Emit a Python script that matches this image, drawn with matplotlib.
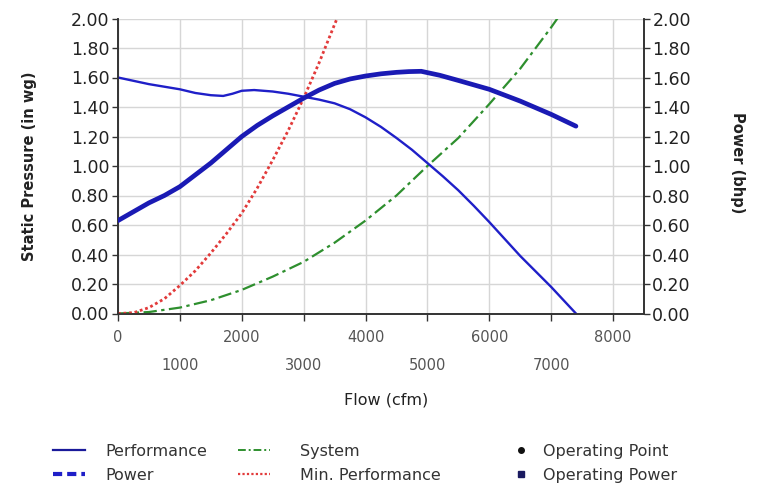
import matplotlib
matplotlib.use("Agg")
import matplotlib.pyplot as plt
from matplotlib.lines import Line2D

# ---- data ----
flow_perf = [0, 500, 1000, 1250, 1500, 1700, 1850, 2000, 2200, 2500, 2750, 3000,
             3250, 3500, 3750, 4000, 4250, 4500, 4750, 5000, 5250, 5500, 5750,
             6000, 6250, 6500, 6750, 7000, 7200, 7400]
performance = [1.60, 1.555, 1.52, 1.495, 1.48, 1.475, 1.49, 1.51, 1.515, 1.505, 1.49, 1.47,
               1.45, 1.425, 1.385, 1.33, 1.265, 1.19, 1.11, 1.02, 0.93, 0.835, 0.73,
               0.62, 0.505, 0.39, 0.285, 0.18, 0.09, 0.0]

flow_power = [0, 250, 500, 750, 1000, 1250, 1500, 1750, 2000, 2250, 2500, 2750,
              3000, 3250, 3500, 3750, 4000, 4250, 4500, 4700, 4900, 5200, 5500,
              5750, 6000, 6250, 6500, 6750, 7000, 7200, 7400]
power = [0.63, 0.69, 0.75, 0.80, 0.86, 0.94, 1.02, 1.11, 1.20, 1.275, 1.34, 1.40,
         1.46, 1.515, 1.56, 1.59, 1.61, 1.625, 1.635, 1.64, 1.642, 1.615, 1.58,
         1.55, 1.52, 1.48, 1.44, 1.395, 1.35, 1.31, 1.27]

flow_system = [0, 500, 1000, 1500, 2000, 2500, 3000, 3500, 4000, 4500, 5000,
               5500, 6000, 6500, 7000, 7200]
system = [0.0, 0.01, 0.04, 0.09, 0.16, 0.25, 0.35, 0.48, 0.63, 0.80, 1.00,
          1.19, 1.42, 1.66, 1.94, 2.06]

flow_minperf = [0, 250, 500, 750, 1000, 1250, 1500, 1750, 2000, 2250, 2500,
                2750, 3000, 3250, 3500, 3600]
min_performance = [0.0, 0.005, 0.04, 0.10, 0.19, 0.29, 0.41, 0.54, 0.68, 0.85, 1.04,
                   1.24, 1.46, 1.70, 1.96, 2.06]

x_ticks = [0, 1000, 2000, 3000, 4000, 5000, 6000, 7000, 8000]
y_ticks = [0.0, 0.2, 0.4, 0.6, 0.8, 1.0, 1.2, 1.4, 1.6, 1.8, 2.0]

legend_labels = ["Performance", "Power", "System", "Min. Performance",
                 "Operating Point", "Operating Power"]

# ---- figure ----
plt.rcParams['font.family'] = ['DejaVu Sans']
W, H = 763, 491
fig = plt.figure(figsize=(W / 100, H / 100), dpi=100)
L, R, T, B = 118, 644, 18.5, 313.5
ax = fig.add_axes([L / W, 1 - B / H, (R - L) / W, (B - T) / H])
ax2 = ax.twinx()

blue = '#1f1fc8'
blue_dark = '#1a1ab4'
green = '#2e8f2e'
red = '#e23a3a'
spine_c = '#333333'

ax.set_xlim(0, 8500)
ax.set_ylim(0, 2.0)
ax2.set_ylim(0, 2.0)

ax.grid(True, color='#d6d6d6', lw=1.0)
ax.set_axisbelow(True)

ax.plot(flow_system, system, color=green, lw=1.6, ls=(0, (6, 2, 1.5, 2)), zorder=3)
ax.plot(flow_minperf, min_performance, color=red, lw=2.0, ls=(0, (1, 1)), zorder=3)
ax.plot(flow_perf, performance, color=blue, lw=1.7, zorder=4,
        solid_joinstyle='round')
ax2.plot(flow_power, power, color=blue_dark, lw=3.4, zorder=4,
         solid_capstyle='round', solid_joinstyle='round')

ax.set_xticks(x_ticks)
ax.set_yticks(y_ticks)
ax2.set_yticks(y_ticks)
ax.set_yticklabels([f"{v:.2f}" for v in y_ticks])
ax2.set_yticklabels([f"{v:.2f}" for v in y_ticks])
ax.set_xticklabels([str(v) for v in x_ticks])

for a in (ax, ax2):
    a.spines['top'].set_visible(False)
    for s in ('left', 'right', 'bottom'):
        a.spines[s].set_color(spine_c)
        a.spines[s].set_linewidth(1.2)

ax.tick_params(axis='y', direction='out', length=4, width=1, color=spine_c,
               labelsize=12.5, labelcolor='#222222', pad=2)
ax2.tick_params(axis='y', direction='out', length=4, width=1, color=spine_c,
                labelsize=12.5, labelcolor='#222222', pad=2)
ax.tick_params(axis='x', direction='out', length=5, width=1, color=spine_c,
               labelsize=10.5, labelcolor='#555555')

for i, tick in enumerate(ax.xaxis.get_major_ticks()):
    if x_ticks[i] % 2000 == 0:
        tick.set_pad(7)
    else:
        tick.set_pad(27)

fig.text(386 / W, 1 - 400 / H, "Flow (cfm)", ha='center', va='center',
         fontsize=11.5, color='#222222')
fig.text(30 / W, 1 - 166 / H, "Static Pressure (in wg)", rotation=90,
         ha='center', va='center', fontsize=10.5, fontweight='bold', color='#222222')
fig.text(738 / W, 1 - 163 / H, "Power (bhp)", rotation=270,
         ha='center', va='center', fontsize=10.5, fontweight='bold', color='#222222')

# ---- legend ----
h_perf = Line2D([], [], color='#1a1a9a', lw=1.6)
h_pow = Line2D([], [], color=blue, lw=3.0, ls=(0, (2.2, 1.2)))
h_sys = Line2D([], [], color=green, lw=1.4, ls=(0, (4, 1.5, 1, 1.5)))
h_min = Line2D([], [], color=red, lw=1.6, ls=(0, (1, 1)))
h_op = Line2D([], [], color='#111111', marker='o', ls='none', markersize=4)
h_opw = Line2D([], [], color='#1a1a60', marker='s', ls='none', markersize=4)

leg_kw = dict(frameon=False, fontsize=11.5, labelcolor='#333333', labelspacing=0.55,
              borderpad=0, borderaxespad=0, handleheight=0.7, loc='upper left')
y_leg = 1 - 444 / H
fig.legend([h_perf, h_pow], legend_labels[0:2], bbox_to_anchor=(53 / W, y_leg),
           handlelength=2.0, handletextpad=1.3, **leg_kw)
fig.legend([h_sys, h_min], legend_labels[2:4], bbox_to_anchor=(238 / W, y_leg),
           handlelength=2.0, handletextpad=1.9, **leg_kw)
fig.legend([h_op, h_opw], legend_labels[4:6], bbox_to_anchor=(505 / W, y_leg),
           handlelength=2.0, handletextpad=0.4, **leg_kw)

fig.savefig("out.png", dpi=100)
